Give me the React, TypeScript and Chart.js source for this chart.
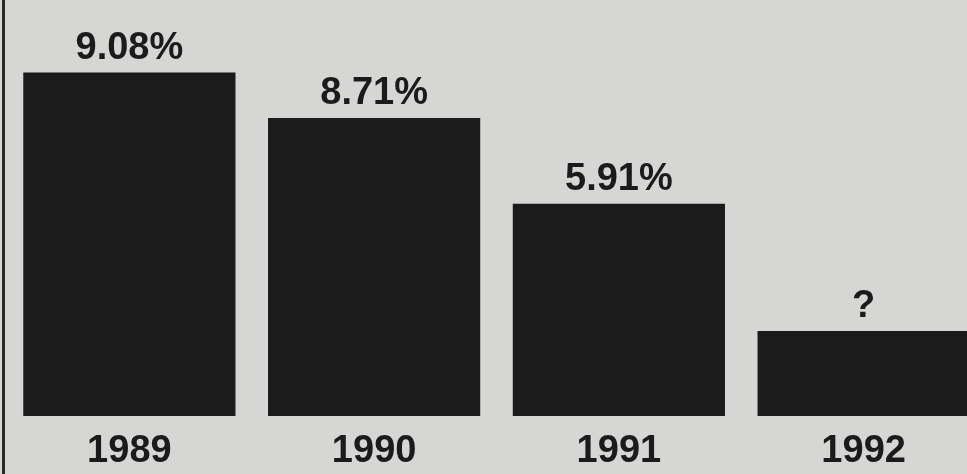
import React, { useEffect, useRef } from "react";
import { Chart, registerables } from "chart.js";

Chart.register(...registerables);

const years = ["1989", "1990", "1991", "1992"];
// Bar heights as drawn in the (not-to-scale) newspaper graphic
const barHeights = [9.08, 7.88, 5.61, 2.25];
const valueLabels = ["9.08%", "8.71%", "5.91%", "?"];

const FONT = '"Liberation Sans", Arial, Helvetica, sans-serif';
const INK = "#1b1b1b";

const labelPlugin = {
  id: "barLabels",
  afterDatasetsDraw(chart: any) {
    const ctx = chart.ctx;
    const meta = chart.getDatasetMeta(0);
    ctx.save();
    ctx.fillStyle = INK;
    ctx.font = `bold 38px ${FONT}`;
    ctx.textAlign = "center";
    ctx.textBaseline = "alphabetic";
    meta.data.forEach((bar: any, i: number) => {
      ctx.fillText(valueLabels[i], bar.x, bar.y - 14);
    });
    ctx.restore();
  },
};

export default function App() {
  const ref = useRef<HTMLCanvasElement | null>(null);

  useEffect(() => {
    document.body.style.overflow = "hidden";
    const chart = new Chart(ref.current as HTMLCanvasElement, {
      type: "bar",
      data: {
        labels: years,
        datasets: [
          {
            data: barHeights,
            backgroundColor: INK,
            borderWidth: 0,
            barPercentage: 0.867,
            categoryPercentage: 1,
          },
        ],
      },
      options: {
        animation: false,
        responsive: true,
        maintainAspectRatio: false,
        layout: { padding: { left: 7, right: 0, top: 0, bottom: 0 } },
        plugins: {
          legend: { display: false },
          tooltip: { enabled: false },
        },
        scales: {
          x: {
            grid: { display: false, drawTicks: false },
            border: { display: false },
            ticks: {
              color: INK,
              font: { family: FONT, size: 38, weight: "bold" },
              padding: 13,
              maxRotation: 0,
              autoSkip: false,
            },
            afterFit: (s: any) => {
              s.height = 58;
            },
          },
          y: {
            display: false,
            min: 0,
            max: 11,
          },
        },
      },
      plugins: [labelPlugin],
    });
    return () => chart.destroy();
  }, []);

  return (
    <div
      style={{
        position: "fixed",
        left: 0,
        top: 0,
        width: 967,
        height: 474,
        overflow: "hidden",
        background: "#d6d6d4",
      }}
    >
      <div
        style={{
          position: "absolute",
          left: 2,
          top: 0,
          width: 3,
          height: 474,
          background: "#2a2a2a",
        }}
      />
      <div style={{ position: "absolute", left: 0, top: 0, width: 986, height: 474 }}>
        <canvas ref={ref} />
      </div>
    </div>
  );
}
